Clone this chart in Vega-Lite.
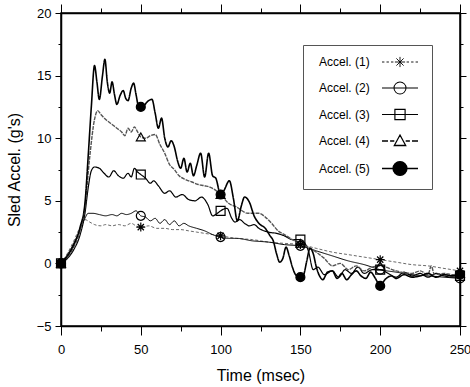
{
  "$schema": "https://vega.github.io/schema/vega-lite/v6.json",
  "width": 399,
  "height": 313,
  "autosize": {"type": "none"},
  "padding": {"left": 61, "top": 13, "right": 10, "bottom": 61},
  "config": {
    "font": "Liberation Sans",
    "view": {"stroke": "black", "strokeWidth": 1.5},
    "axis": {"grid": false, "domainColor": "black", "tickColor": "black", "labelColor": "black", "titleColor": "black", "titleFontWeight": "normal", "domainWidth": 1.5, "tickWidth": 1}
  },
  "data": {"values": [
    {"s":"Accel. (1)","t":0,"v":0},{"s":"Accel. (1)","t":4,"v":0.8},{"s":"Accel. (1)","t":8,"v":1.8},{"s":"Accel. (1)","t":12,"v":2.9},{"s":"Accel. (1)","t":15,"v":3.5},{"s":"Accel. (1)","t":18,"v":3.3},{"s":"Accel. (1)","t":21,"v":3.1},{"s":"Accel. (1)","t":25,"v":3.0},{"s":"Accel. (1)","t":28,"v":3.1},{"s":"Accel. (1)","t":32,"v":3.0},{"s":"Accel. (1)","t":36,"v":3.1},{"s":"Accel. (1)","t":40,"v":3.0},{"s":"Accel. (1)","t":44,"v":3.2},{"s":"Accel. (1)","t":47,"v":3.0},{"s":"Accel. (1)","t":50,"v":2.9},{"s":"Accel. (1)","t":55,"v":3.0},{"s":"Accel. (1)","t":60,"v":2.8},{"s":"Accel. (1)","t":65,"v":2.8},{"s":"Accel. (1)","t":70,"v":2.7},{"s":"Accel. (1)","t":75,"v":2.7},{"s":"Accel. (1)","t":80,"v":2.6},{"s":"Accel. (1)","t":85,"v":2.5},{"s":"Accel. (1)","t":90,"v":2.4},{"s":"Accel. (1)","t":95,"v":2.3},{"s":"Accel. (1)","t":100,"v":2.2},{"s":"Accel. (1)","t":110,"v":2.0},{"s":"Accel. (1)","t":120,"v":1.9},{"s":"Accel. (1)","t":130,"v":1.7},{"s":"Accel. (1)","t":140,"v":1.6},{"s":"Accel. (1)","t":150,"v":1.5},{"s":"Accel. (1)","t":160,"v":1.2},{"s":"Accel. (1)","t":170,"v":0.9},{"s":"Accel. (1)","t":180,"v":0.7},{"s":"Accel. (1)","t":190,"v":0.5},{"s":"Accel. (1)","t":200,"v":0.3},{"s":"Accel. (1)","t":210,"v":0.1},{"s":"Accel. (1)","t":220,"v":-0.1},{"s":"Accel. (1)","t":230,"v":-0.2},{"s":"Accel. (1)","t":240,"v":-0.4},{"s":"Accel. (1)","t":250,"v":-0.6},

    {"s":"Accel. (2)","t":0,"v":0},{"s":"Accel. (2)","t":4,"v":0.7},{"s":"Accel. (2)","t":8,"v":1.6},{"s":"Accel. (2)","t":12,"v":2.7},{"s":"Accel. (2)","t":15,"v":3.6},{"s":"Accel. (2)","t":17,"v":4.0},{"s":"Accel. (2)","t":20,"v":4.0},{"s":"Accel. (2)","t":24,"v":3.9},{"s":"Accel. (2)","t":28,"v":3.8},{"s":"Accel. (2)","t":32,"v":3.9},{"s":"Accel. (2)","t":35,"v":3.8},{"s":"Accel. (2)","t":38,"v":4.0},{"s":"Accel. (2)","t":41,"v":3.9},{"s":"Accel. (2)","t":44,"v":4.0},{"s":"Accel. (2)","t":47,"v":4.2},{"s":"Accel. (2)","t":50,"v":3.8},{"s":"Accel. (2)","t":53,"v":3.7},{"s":"Accel. (2)","t":56,"v":3.4},{"s":"Accel. (2)","t":59,"v":3.6},{"s":"Accel. (2)","t":62,"v":3.2},{"s":"Accel. (2)","t":65,"v":3.5},{"s":"Accel. (2)","t":68,"v":3.1},{"s":"Accel. (2)","t":71,"v":3.4},{"s":"Accel. (2)","t":74,"v":3.0},{"s":"Accel. (2)","t":77,"v":3.2},{"s":"Accel. (2)","t":80,"v":3.0},{"s":"Accel. (2)","t":85,"v":2.8},{"s":"Accel. (2)","t":90,"v":2.6},{"s":"Accel. (2)","t":95,"v":2.3},{"s":"Accel. (2)","t":100,"v":2.1},{"s":"Accel. (2)","t":105,"v":2.0},{"s":"Accel. (2)","t":110,"v":2.0},{"s":"Accel. (2)","t":120,"v":1.8},{"s":"Accel. (2)","t":130,"v":1.7},{"s":"Accel. (2)","t":140,"v":1.5},{"s":"Accel. (2)","t":150,"v":1.4},{"s":"Accel. (2)","t":160,"v":1.0},{"s":"Accel. (2)","t":170,"v":0.6},{"s":"Accel. (2)","t":180,"v":0.2},{"s":"Accel. (2)","t":190,"v":-0.1},{"s":"Accel. (2)","t":200,"v":-0.5},{"s":"Accel. (2)","t":210,"v":-0.7},{"s":"Accel. (2)","t":220,"v":-0.9},{"s":"Accel. (2)","t":230,"v":-1.0},{"s":"Accel. (2)","t":240,"v":-1.1},{"s":"Accel. (2)","t":250,"v":-1.2},

    {"s":"Accel. (3)","t":0,"v":0},{"s":"Accel. (3)","t":4,"v":0.4},{"s":"Accel. (3)","t":8,"v":1.1},{"s":"Accel. (3)","t":12,"v":2.3},{"s":"Accel. (3)","t":15,"v":4.0},{"s":"Accel. (3)","t":17,"v":6.0},{"s":"Accel. (3)","t":19,"v":7.4},{"s":"Accel. (3)","t":21,"v":7.7},{"s":"Accel. (3)","t":24,"v":7.6},{"s":"Accel. (3)","t":27,"v":7.2},{"s":"Accel. (3)","t":30,"v":6.9},{"s":"Accel. (3)","t":33,"v":7.4},{"s":"Accel. (3)","t":36,"v":7.0},{"s":"Accel. (3)","t":39,"v":6.8},{"s":"Accel. (3)","t":42,"v":7.2},{"s":"Accel. (3)","t":44,"v":6.9},{"s":"Accel. (3)","t":46,"v":7.6},{"s":"Accel. (3)","t":48,"v":7.3},{"s":"Accel. (3)","t":50,"v":7.1},{"s":"Accel. (3)","t":53,"v":6.8},{"s":"Accel. (3)","t":56,"v":6.4},{"s":"Accel. (3)","t":58,"v":6.6},{"s":"Accel. (3)","t":61,"v":6.2},{"s":"Accel. (3)","t":65,"v":5.6},{"s":"Accel. (3)","t":68,"v":5.8},{"s":"Accel. (3)","t":72,"v":5.3},{"s":"Accel. (3)","t":76,"v":5.5},{"s":"Accel. (3)","t":80,"v":5.1},{"s":"Accel. (3)","t":84,"v":5.0},{"s":"Accel. (3)","t":88,"v":5.3},{"s":"Accel. (3)","t":92,"v":4.7},{"s":"Accel. (3)","t":95,"v":3.8},{"s":"Accel. (3)","t":98,"v":4.0},{"s":"Accel. (3)","t":100,"v":4.2},{"s":"Accel. (3)","t":104,"v":4.4},{"s":"Accel. (3)","t":107,"v":3.6},{"s":"Accel. (3)","t":109,"v":3.3},{"s":"Accel. (3)","t":112,"v":3.5},{"s":"Accel. (3)","t":115,"v":3.2},{"s":"Accel. (3)","t":118,"v":3.0},{"s":"Accel. (3)","t":121,"v":3.1},{"s":"Accel. (3)","t":124,"v":2.8},{"s":"Accel. (3)","t":130,"v":2.5},{"s":"Accel. (3)","t":135,"v":2.4},{"s":"Accel. (3)","t":140,"v":2.2},{"s":"Accel. (3)","t":145,"v":1.9},{"s":"Accel. (3)","t":150,"v":1.9},{"s":"Accel. (3)","t":155,"v":1.0},{"s":"Accel. (3)","t":158,"v":-0.5},{"s":"Accel. (3)","t":161,"v":-0.3},{"s":"Accel. (3)","t":165,"v":-0.9},{"s":"Accel. (3)","t":170,"v":-0.6},{"s":"Accel. (3)","t":174,"v":-1.1},{"s":"Accel. (3)","t":178,"v":-0.5},{"s":"Accel. (3)","t":182,"v":-0.8},{"s":"Accel. (3)","t":186,"v":-0.3},{"s":"Accel. (3)","t":190,"v":-0.8},{"s":"Accel. (3)","t":195,"v":-0.5},{"s":"Accel. (3)","t":200,"v":-0.5},{"s":"Accel. (3)","t":205,"v":-0.8},{"s":"Accel. (3)","t":210,"v":-1.1},{"s":"Accel. (3)","t":215,"v":-0.7},{"s":"Accel. (3)","t":220,"v":-1.0},{"s":"Accel. (3)","t":225,"v":-0.8},{"s":"Accel. (3)","t":230,"v":-1.1},{"s":"Accel. (3)","t":235,"v":-0.8},{"s":"Accel. (3)","t":240,"v":-1.0},{"s":"Accel. (3)","t":245,"v":-1.1},{"s":"Accel. (3)","t":250,"v":-1.0},

    {"s":"Accel. (4)","t":0,"v":0},{"s":"Accel. (4)","t":4,"v":0.5},{"s":"Accel. (4)","t":8,"v":1.3},{"s":"Accel. (4)","t":12,"v":2.6},{"s":"Accel. (4)","t":15,"v":4.5},{"s":"Accel. (4)","t":18,"v":8.5},{"s":"Accel. (4)","t":21,"v":11.5},{"s":"Accel. (4)","t":23,"v":12.2},{"s":"Accel. (4)","t":25,"v":11.9},{"s":"Accel. (4)","t":28,"v":11.5},{"s":"Accel. (4)","t":31,"v":11.2},{"s":"Accel. (4)","t":35,"v":10.8},{"s":"Accel. (4)","t":38,"v":10.5},{"s":"Accel. (4)","t":40,"v":10.2},{"s":"Accel. (4)","t":42,"v":10.8},{"s":"Accel. (4)","t":44,"v":10.5},{"s":"Accel. (4)","t":46,"v":10.9},{"s":"Accel. (4)","t":48,"v":10.5},{"s":"Accel. (4)","t":50,"v":10.1},{"s":"Accel. (4)","t":53,"v":10.0},{"s":"Accel. (4)","t":56,"v":10.2},{"s":"Accel. (4)","t":59,"v":10.3},{"s":"Accel. (4)","t":62,"v":9.5},{"s":"Accel. (4)","t":65,"v":8.8},{"s":"Accel. (4)","t":68,"v":7.9},{"s":"Accel. (4)","t":71,"v":7.5},{"s":"Accel. (4)","t":74,"v":7.0},{"s":"Accel. (4)","t":78,"v":6.7},{"s":"Accel. (4)","t":82,"v":6.5},{"s":"Accel. (4)","t":86,"v":6.3},{"s":"Accel. (4)","t":90,"v":6.2},{"s":"Accel. (4)","t":95,"v":6.0},{"s":"Accel. (4)","t":100,"v":5.5},{"s":"Accel. (4)","t":105,"v":4.8},{"s":"Accel. (4)","t":110,"v":4.5},{"s":"Accel. (4)","t":117,"v":4.0},{"s":"Accel. (4)","t":124,"v":4.0},{"s":"Accel. (4)","t":128,"v":3.7},{"s":"Accel. (4)","t":132,"v":3.2},{"s":"Accel. (4)","t":136,"v":2.6},{"s":"Accel. (4)","t":140,"v":2.3},{"s":"Accel. (4)","t":145,"v":1.9},{"s":"Accel. (4)","t":150,"v":1.6},{"s":"Accel. (4)","t":155,"v":1.3},{"s":"Accel. (4)","t":160,"v":0.9},{"s":"Accel. (4)","t":165,"v":0.4},{"s":"Accel. (4)","t":170,"v":-0.2},{"s":"Accel. (4)","t":175,"v":0.0},{"s":"Accel. (4)","t":180,"v":-0.5},{"s":"Accel. (4)","t":185,"v":-0.2},{"s":"Accel. (4)","t":190,"v":-0.6},{"s":"Accel. (4)","t":195,"v":-0.3},{"s":"Accel. (4)","t":200,"v":-0.2},{"s":"Accel. (4)","t":210,"v":-0.6},{"s":"Accel. (4)","t":220,"v":-0.8},{"s":"Accel. (4)","t":225,"v":-0.6},{"s":"Accel. (4)","t":230,"v":-0.9},{"s":"Accel. (4)","t":232,"v":-0.2},{"s":"Accel. (4)","t":234,"v":-0.9},{"s":"Accel. (4)","t":240,"v":-0.8},{"s":"Accel. (4)","t":245,"v":-0.9},{"s":"Accel. (4)","t":250,"v":-0.8},

    {"s":"Accel. (5)","t":0,"v":0},{"s":"Accel. (5)","t":4,"v":0.6},{"s":"Accel. (5)","t":8,"v":1.5},{"s":"Accel. (5)","t":12,"v":2.9},{"s":"Accel. (5)","t":15,"v":4.8},{"s":"Accel. (5)","t":17,"v":8.5},{"s":"Accel. (5)","t":19,"v":12.5},{"s":"Accel. (5)","t":21,"v":15.8},{"s":"Accel. (5)","t":22.5,"v":14.5},{"s":"Accel. (5)","t":24,"v":13.1},{"s":"Accel. (5)","t":26,"v":15.0},{"s":"Accel. (5)","t":27.5,"v":16.3},{"s":"Accel. (5)","t":29,"v":14.5},{"s":"Accel. (5)","t":30.5,"v":13.6},{"s":"Accel. (5)","t":32,"v":14.5},{"s":"Accel. (5)","t":33.5,"v":13.5},{"s":"Accel. (5)","t":35,"v":12.7},{"s":"Accel. (5)","t":37,"v":13.4},{"s":"Accel. (5)","t":39,"v":13.8},{"s":"Accel. (5)","t":40.5,"v":13.2},{"s":"Accel. (5)","t":42,"v":13.0},{"s":"Accel. (5)","t":44,"v":14.0},{"s":"Accel. (5)","t":45.5,"v":14.4},{"s":"Accel. (5)","t":47,"v":13.5},{"s":"Accel. (5)","t":48.5,"v":12.6},{"s":"Accel. (5)","t":50,"v":12.5},{"s":"Accel. (5)","t":52,"v":12.6},{"s":"Accel. (5)","t":54,"v":12.9},{"s":"Accel. (5)","t":57,"v":13.1},{"s":"Accel. (5)","t":59,"v":12.0},{"s":"Accel. (5)","t":61,"v":10.8},{"s":"Accel. (5)","t":63,"v":11.6},{"s":"Accel. (5)","t":65,"v":10.0},{"s":"Accel. (5)","t":67,"v":9.3},{"s":"Accel. (5)","t":69,"v":9.8},{"s":"Accel. (5)","t":71,"v":9.3},{"s":"Accel. (5)","t":73,"v":8.2},{"s":"Accel. (5)","t":75,"v":7.6},{"s":"Accel. (5)","t":77,"v":8.4},{"s":"Accel. (5)","t":79,"v":7.3},{"s":"Accel. (5)","t":81,"v":8.0},{"s":"Accel. (5)","t":83,"v":7.0},{"s":"Accel. (5)","t":85,"v":7.8},{"s":"Accel. (5)","t":87.5,"v":8.8},{"s":"Accel. (5)","t":90,"v":6.9},{"s":"Accel. (5)","t":92.5,"v":8.8},{"s":"Accel. (5)","t":95,"v":7.0},{"s":"Accel. (5)","t":97,"v":6.8},{"s":"Accel. (5)","t":100,"v":5.5},{"s":"Accel. (5)","t":102,"v":5.8},{"s":"Accel. (5)","t":105.5,"v":6.6},{"s":"Accel. (5)","t":108,"v":5.2},{"s":"Accel. (5)","t":110.5,"v":3.4},{"s":"Accel. (5)","t":113,"v":4.6},{"s":"Accel. (5)","t":115,"v":5.3},{"s":"Accel. (5)","t":118,"v":4.9},{"s":"Accel. (5)","t":121,"v":3.8},{"s":"Accel. (5)","t":124,"v":3.2},{"s":"Accel. (5)","t":128,"v":2.8},{"s":"Accel. (5)","t":131,"v":2.2},{"s":"Accel. (5)","t":133,"v":1.8},{"s":"Accel. (5)","t":135,"v":0.8},{"s":"Accel. (5)","t":137,"v":0.1},{"s":"Accel. (5)","t":139,"v":0.4},{"s":"Accel. (5)","t":141,"v":1.3},{"s":"Accel. (5)","t":143,"v":0.6},{"s":"Accel. (5)","t":145,"v":-0.3},{"s":"Accel. (5)","t":147,"v":-0.9},{"s":"Accel. (5)","t":150,"v":-1.1},{"s":"Accel. (5)","t":152,"v":-0.9},{"s":"Accel. (5)","t":154,"v":0.2},{"s":"Accel. (5)","t":156,"v":1.2},{"s":"Accel. (5)","t":158,"v":0.8},{"s":"Accel. (5)","t":160,"v":-0.3},{"s":"Accel. (5)","t":162,"v":-1.0},{"s":"Accel. (5)","t":164,"v":-1.3},{"s":"Accel. (5)","t":167,"v":-0.7},{"s":"Accel. (5)","t":170,"v":-0.6},{"s":"Accel. (5)","t":173,"v":-1.2},{"s":"Accel. (5)","t":176,"v":-0.8},{"s":"Accel. (5)","t":179,"v":-1.3},{"s":"Accel. (5)","t":182,"v":-0.9},{"s":"Accel. (5)","t":185,"v":-0.6},{"s":"Accel. (5)","t":188,"v":-1.0},{"s":"Accel. (5)","t":191,"v":-1.2},{"s":"Accel. (5)","t":194,"v":-0.7},{"s":"Accel. (5)","t":197,"v":-1.2},{"s":"Accel. (5)","t":200,"v":-1.8},{"s":"Accel. (5)","t":203,"v":-1.3},{"s":"Accel. (5)","t":207,"v":-1.0},{"s":"Accel. (5)","t":210,"v":-1.2},{"s":"Accel. (5)","t":215,"v":-0.9},{"s":"Accel. (5)","t":220,"v":-1.1},{"s":"Accel. (5)","t":225,"v":-1.0},{"s":"Accel. (5)","t":230,"v":-0.8},{"s":"Accel. (5)","t":235,"v":-1.1},{"s":"Accel. (5)","t":240,"v":-0.9},{"s":"Accel. (5)","t":245,"v":-1.0},{"s":"Accel. (5)","t":250,"v":-0.9}
  ]},
  "resolve": {
    "scale": {"shape": "independent", "fill": "independent", "stroke": "independent", "strokeWidth": "independent", "size": "independent"},
    "axis": {"x": "independent", "y": "independent"}
  },
  "layer": [
    {
      "mark": {"type": "line", "interpolate": "monotone", "clip": true},
      "encoding": {
        "x": {"field": "t", "type": "quantitative", "scale": {"domain": [0, 250], "nice": false},
          "axis": {"title": "Time (msec)", "values": [0,25,50,75,100,125,150,175,200,225,250],
            "labelExpr": "datum.value % 50 === 0 ? datum.label : ''",
            "tickSize": {"condition": {"test": "datum.value % 50 === 0", "value": 9}, "value": 5},
            "labelFontSize": 13, "labelPadding": 8, "titleFontSize": 16, "titlePadding": 11, "labelFlush": false, "labelOverlap": false}},
        "y": {"field": "v", "type": "quantitative", "scale": {"domain": [-5, 20], "nice": false},
          "axis": {"title": "Sled Accel. (g's)", "values": [-5,-2.5,0,2.5,5,7.5,10,12.5,15,17.5,20],
            "labelExpr": "datum.value % 5 === 0 ? datum.label : ''",
            "tickSize": {"condition": {"test": "datum.value % 5 === 0", "value": 6}, "value": 3},
            "labelFontSize": 13, "labelPadding": 4, "titleFontSize": 16, "titlePadding": 14, "labelFlush": false, "labelOverlap": false}},
        "detail": {"field": "s"},
        "stroke": {"field": "s", "type": "nominal", "legend": null,
          "scale": {"domain": ["Accel. (1)","Accel. (2)","Accel. (3)","Accel. (4)","Accel. (5)"], "range": ["#444","#000","#000","#555","#000"]}},
        "strokeWidth": {"field": "s", "type": "nominal", "legend": null,
          "scale": {"domain": ["Accel. (1)","Accel. (2)","Accel. (3)","Accel. (4)","Accel. (5)"], "range": [0.8, 1.6, 1.6, 0.8, 1.8]}},
        "strokeDash": {"field": "s", "type": "nominal", "legend": null,
          "scale": {"domain": ["Accel. (1)","Accel. (2)","Accel. (3)","Accel. (4)","Accel. (5)"], "range": [[3,2],[1,0],[1,0],[4,1],[1,0]]}}
      }
    },
    {
      "transform": [{"filter": "datum.t % 50 === 0"}],
      "mark": {"type": "point", "stroke": "black", "strokeWidth": 1.2, "opacity": 1},
      "encoding": {
        "x": {"field": "t", "type": "quantitative",
          "axis": {"orient": "top", "title": null, "labels": false, "values": [0,25,50,75,100,125,150,175,200,225,250],
            "tickSize": {"condition": {"test": "datum.value % 50 === 0", "value": 9}, "value": 5}}},
        "y": {"field": "v", "type": "quantitative",
          "axis": {"orient": "right", "title": null, "labels": false, "values": [-5,-2.5,0,2.5,5,7.5,10,12.5,15,17.5,20],
            "tickSize": {"condition": {"test": "datum.value % 5 === 0", "value": 6}, "value": 3}}},
        "shape": {"field": "s", "type": "nominal", "legend": null,
          "scale": {"domain": ["Accel. (1)","Accel. (2)","Accel. (3)","Accel. (4)","Accel. (5)"],
            "range": ["M-1,0L1,0M0,-1L0,1M-0.7,-0.7L0.7,0.7M-0.7,0.7L0.7,-0.7", "circle", "square", "triangle-up", "circle"]}},
        "fill": {"field": "s", "type": "nominal", "legend": null,
          "scale": {"domain": ["Accel. (1)","Accel. (2)","Accel. (3)","Accel. (4)","Accel. (5)"], "range": ["transparent","transparent","transparent","transparent","black"]}},
        "size": {"field": "s", "type": "nominal", "legend": null,
          "scale": {"domain": ["Accel. (1)","Accel. (2)","Accel. (3)","Accel. (4)","Accel. (5)"], "range": [80, 80, 55, 65, 130]}}
      }
    },
    {
      "transform": [{"filter": "false"}],
      "mark": {"type": "point", "size": 144, "opacity": 1},
      "encoding": {
        "x": {"field": "t", "type": "quantitative", "axis": null},
        "y": {"field": "v", "type": "quantitative", "axis": null},
        "shape": {"field": "s", "type": "nominal",
          "scale": {"domain": ["Accel. (1)","Accel. (2)","Accel. (3)","Accel. (4)","Accel. (5)"],
            "range": [
              "M10.25,0H10.65M11,0H11.4M11.75,0H12.15M14.35,0H14.75M15.1,0H15.5M15.85,0H16.25M12.4,0H14.1M13.25,-0.85V0.85M12.65,-0.6L13.85,0.6M12.65,0.6L13.85,-0.6",
              "M10.25,0H16.25M14.25,0A1,1 0 1,1 12.25,0A1,1 0 1,1 14.25,0",
              "M10.25,0H16.25M12.4,-0.85H14.1V0.85H12.4Z",
              "M10.25,0H11.25M11.6,0H12.3M14.2,0H14.9M15.25,0H16.25M13.25,-1L14.2,0.75H12.3Z",
              "M10.25,0H16.25M14.4,0A1.15,1.15 0 1,1 12.1,0A1.15,1.15 0 1,1 14.4,0"
            ]},
          "legend": {"title": null, "orient": "none", "legendX": 242, "legendY": 32, "padding": 10.5,
            "strokeColor": "#555", "fillColor": "white", "labelFontSize": 12, "labelFont": "Liberation Sans", "labelColor": "black",
            "rowPadding": 9.5, "symbolSize": 144, "labelOffset": -8.5, "symbolOpacity": 1}},
        "stroke": {"field": "s", "type": "nominal",
          "scale": {"domain": ["Accel. (1)","Accel. (2)","Accel. (3)","Accel. (4)","Accel. (5)"], "range": ["black","black","black","black","black"]}},
        "fill": {"field": "s", "type": "nominal",
          "scale": {"domain": ["Accel. (1)","Accel. (2)","Accel. (3)","Accel. (4)","Accel. (5)"], "range": ["transparent","transparent","transparent","transparent","black"]}},
        "strokeWidth": {"field": "s", "type": "nominal",
          "scale": {"domain": ["Accel. (1)","Accel. (2)","Accel. (3)","Accel. (4)","Accel. (5)"], "range": [0.9, 1.4, 1.4, 0.9, 1.4]}}
      }
    }
  ]
}
